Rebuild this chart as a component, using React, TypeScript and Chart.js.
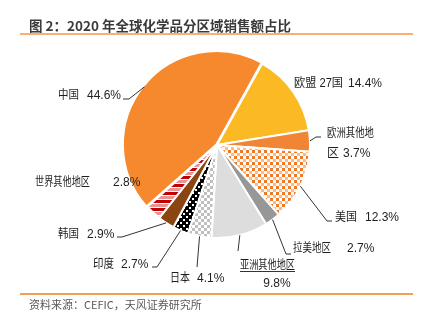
import React, { useEffect, useRef } from 'react';
import { Chart, registerables } from 'chart.js';

Chart.register(...registerables);

// ---- data ----
const titleText = '图 2：2020 年全球化学品分区域销售额占比';
const sourceText = '资料来源：CEFIC，天风证券研究所';
const categories = ['欧盟 27国', '欧洲其他地区', '美国', '拉美地区', '亚洲其他地区', '日本', '印度', '韩国', '世界其他地区', '中国'];
const shares = [14.4, 3.7, 12.3, 2.7, 9.8, 4.1, 2.7, 2.9, 2.8, 44.6];

// ---- styles / layout (not data) ----
type Piece = { k: 'n' | 'v'; s?: number; e?: number; x: number; y: number; w?: number; align?: CanvasTextAlign; underline?: boolean };
type LabelLayout = { pieces: Piece[]; leader: number[][] | null };

const labelLayout: LabelLayout[] = [
  { pieces: [{ k: 'n', x: 294, y: 84, w: 49 }, { k: 'v', x: 348, y: 84 }], leader: null },
  { pieces: [{ k: 'n', s: 0, e: 5, x: 327, y: 134, w: 47 }, { k: 'n', s: 5, x: 327, y: 154 }, { k: 'v', x: 343, y: 154 }], leader: [[316, 137], [321, 137]] },
  { pieces: [{ k: 'n', x: 335, y: 218, w: 22 }, { k: 'v', x: 365, y: 218 }], leader: [[327, 221], [332, 221]] },
  { pieces: [{ k: 'n', x: 293, y: 249, w: 38 }, { k: 'v', x: 347, y: 249 }], leader: [[286, 254], [291, 254]] },
  { pieces: [{ k: 'n', x: 240, y: 266, w: 55, underline: true }, { k: 'v', x: 277, y: 284, align: 'center' }], leader: [[238, 251]] },
  { pieces: [{ k: 'n', x: 170, y: 279, w: 20 }, { k: 'v', x: 197, y: 279 }], leader: [[197, 267]] },
  { pieces: [{ k: 'n', x: 93, y: 265, w: 21 }, { k: 'v', x: 121, y: 265 }], leader: [[157, 267], [152, 267]] },
  { pieces: [{ k: 'n', x: 58, y: 235, w: 21 }, { k: 'v', x: 87, y: 235 }], leader: [[122, 237], [117, 237]] },
  { pieces: [{ k: 'n', x: 35, y: 183, w: 55 }, { k: 'v', x: 113, y: 183 }], leader: null },
  { pieces: [{ k: 'n', x: 58, y: 96, w: 21 }, { k: 'v', x: 87, y: 96 }], leader: [[129, 99], [123, 99]] },
];

const FONT = '12px "Liberation Sans", Arial, "Noto Sans CJK SC", sans-serif';

function makePattern(kind: string): CanvasPattern | string {
  const c = document.createElement('canvas');
  const g = c.getContext('2d')!;
  if (kind === 'us') {
    c.width = 6; c.height = 6;
    g.fillStyle = '#ffffff'; g.fillRect(0, 0, 6, 6);
    g.fillStyle = '#F07820'; g.fillRect(0, 0, 3, 3);
    g.fillStyle = '#F8BC8C'; g.fillRect(3, 3, 3, 3);
  } else if (kind === 'jp') {
    c.width = 6; c.height = 6;
    g.fillStyle = '#ffffff'; g.fillRect(0, 0, 6, 6);
    g.fillStyle = '#BEBEBE'; g.fillRect(0, 0, 3, 3); g.fillRect(3, 3, 3, 3);
  } else if (kind === 'in') {
    c.width = 6; c.height = 6;
    g.fillStyle = '#000000'; g.fillRect(0, 0, 6, 6);
    g.fillStyle = '#ffffff'; g.fillRect(0, 0, 2, 2); g.fillRect(3, 3, 2, 2);
  } else if (kind === 'wo') {
    c.width = 8; c.height = 8;
    g.fillStyle = '#ffffff'; g.fillRect(0, 0, 8, 8);
    g.fillStyle = '#C00000'; g.fillRect(0, 0, 8, 3);
    g.fillStyle = '#E89494'; g.fillRect(0, 4, 8, 3);
  }
  return g.createPattern(c, 'repeat') || '#999';
}

const labelPlugin = {
  id: 'sliceLabels',
  afterDatasetsDraw(chart: any) {
    const ctx: CanvasRenderingContext2D = chart.ctx;
    const meta = chart.getDatasetMeta(0);
    ctx.save();
    ctx.font = FONT;
    ctx.textBaseline = 'middle';
    meta.data.forEach((arc: any, i: number) => {
      const L = labelLayout[i];
      if (!L) return;
      const p = arc.getProps(['x', 'y', 'startAngle', 'endAngle', 'outerRadius'], true);
      const mid = (p.startAngle + p.endAngle) / 2;
      if (L.leader) {
        ctx.strokeStyle = '#333';
        ctx.lineWidth = 1;
        ctx.beginPath();
        ctx.moveTo(p.x + Math.cos(mid) * p.outerRadius, p.y + Math.sin(mid) * p.outerRadius);
        L.leader.forEach((pt) => ctx.lineTo(pt[0], pt[1]));
        ctx.stroke();
      }
      L.pieces.forEach((pc) => {
        let t = '';
        if (pc.k === 'n') t = categories[i].slice(pc.s ?? 0, pc.e ?? undefined);
        else t = shares[i].toFixed(1) + '%';
        ctx.fillStyle = '#1e1e1e';
        ctx.textAlign = pc.align || 'left';
        if (pc.w) ctx.fillText(t, pc.x, pc.y, pc.w);
        else ctx.fillText(t, pc.x, pc.y);
        if (pc.underline) {
          const w = pc.w ?? ctx.measureText(t).width;
          ctx.strokeStyle = '#333';
          ctx.beginPath();
          ctx.moveTo(pc.x, pc.y + 5.5);
          ctx.lineTo(pc.x + w, pc.y + 5.5);
          ctx.stroke();
        }
      });
    });
    ctx.restore();
  },
};

export default function App() {
  const ref = useRef<HTMLCanvasElement>(null);
  useEffect(() => {
    document.body.style.margin = '0';
    const colors: (string | CanvasPattern)[] = [
      '#FBB923',
      '#EF8535',
      makePattern('us'),
      '#979797',
      '#DDDDDD',
      makePattern('jp'),
      makePattern('in'),
      '#8A4512',
      makePattern('wo'),
      '#F6892E',
    ];
    const chart = new Chart(ref.current!, {
      type: 'pie',
      data: {
        labels: categories,
        datasets: [
          {
            data: shares,
            backgroundColor: colors as any,
            borderColor: '#ffffff',
            borderWidth: 2,
            offset: shares.map((_, i) => (i === shares.length - 1 ? 3 : 0)),
          },
        ],
      },
      options: {
        animation: false,
        responsive: false,
        rotation: 29,
        radius: 93,
        layout: { padding: { left: 57, right: 50, top: 40, bottom: 74 } },
        plugins: { legend: { display: false }, tooltip: { enabled: false } },
      } as any,
      plugins: [labelPlugin],
    });
    return () => chart.destroy();
  }, []);

  return (
    <div style={{ position: 'relative', width: 427, height: 324, background: '#fff', overflow: 'hidden' }}>
      <canvas ref={ref} width={427} height={324} style={{ position: 'absolute', left: 0, top: 0 }} />
      <div
        style={{
          position: 'absolute', left: 29, top: 16, lineHeight: '18px', fontSize: 13.5, fontWeight: 'bold',
          color: '#3a3a3a', whiteSpace: 'nowrap', fontFamily: '"Noto Sans CJK SC", "Liberation Sans", sans-serif',
        }}
      >
        {titleText}
      </div>
      <div style={{ position: 'absolute', left: 20, top: 33, width: 393, height: 2, background: '#F9AE74' }} />
      <div style={{ position: 'absolute', left: 20, top: 293, width: 393, height: 2, background: '#F4A052' }} />
      <div
        style={{
          position: 'absolute', left: 29, top: 297, lineHeight: '14px', fontSize: 11, color: '#595959',
          whiteSpace: 'nowrap', fontFamily: '"Noto Sans CJK SC", "Liberation Sans", sans-serif',
        }}
      >
        {sourceText}
      </div>
    </div>
  );
}
